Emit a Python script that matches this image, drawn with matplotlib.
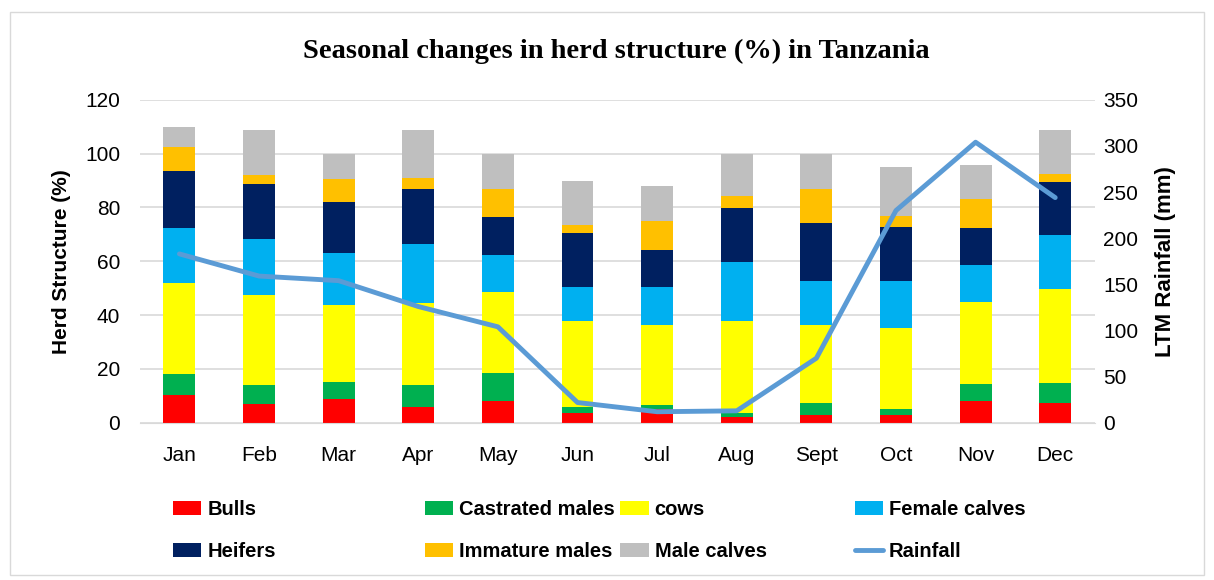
import numpy as np
import matplotlib.pyplot as plt
from matplotlib.patches import Rectangle

months = ["Jan", "Feb", "Mar", "Apr", "May", "Jun", "Jul", "Aug", "Sept", "Oct", "Nov", "Dec"]

bulls = [10.4, 7.0, 9.0, 5.8, 8.1, 3.5, 5.3, 2.1, 2.8, 2.8, 8.1, 7.4]
castrated = [7.9, 7.1, 6.3, 8.4, 10.3, 2.3, 1.2, 1.4, 4.5, 2.5, 6.5, 7.4]
cows = [33.7, 33.2, 28.5, 30.2, 30.1, 31.9, 29.9, 34.4, 29.1, 30.1, 30.1, 34.8]
female_calves = [20.5, 21.0, 19.3, 22.0, 14.0, 12.9, 14.0, 21.7, 16.1, 17.1, 13.8, 20.2]
heifers = [21.1, 20.3, 18.9, 20.4, 13.9, 19.9, 13.9, 20.3, 21.8, 20.3, 14.0, 19.6]
immature = [8.9, 3.3, 8.5, 4.1, 10.5, 3.1, 10.6, 4.4, 12.4, 4.1, 10.6, 3.2]
male_calves = [7.3, 17.0, 9.4, 18.0, 13.0, 16.3, 13.0, 15.6, 13.2, 18.0, 12.7, 16.3]
rainfall = [183, 159, 154, 126, 104, 22, 12, 13, 70, 230, 304, 244]

series = [
    ("Bulls", bulls, "#FF0000"),
    ("Castrated males", castrated, "#00B050"),
    ("cows", cows, "#FFFF00"),
    ("Female calves", female_calves, "#00B0F0"),
    ("Heifers", heifers, "#002060"),
    ("Immature males", immature, "#FFC000"),
    ("Male calves", male_calves, "#BFBFBF"),
]

plt.rcParams['font.family'] = ['Liberation Sans', 'DejaVu Sans']

fig = plt.figure(figsize=(12.14, 5.80), dpi=100)
ax = fig.add_axes([0.115, 0.271, 0.787, 0.557])

x = np.arange(len(months))
bottom = np.zeros(len(months))
handles = {}
for name, vals, col in series:
    b = ax.bar(x, vals, 0.4, bottom=bottom, color=col, label=name, zorder=2)
    handles[name] = b
    bottom += np.array(vals)

ax.set_xlim(-0.5, 11.5)
ax.set_ylim(0, 120)
ax.set_yticks(range(0, 121, 20))
ax.set_xticks(x)
ax.set_xticklabels(months)
ax.grid(axis='y', color='#D9D9D9', lw=1.2, zorder=0)
ax.tick_params(length=0, labelsize=15)
ax.tick_params(axis='x', pad=17)
ax.tick_params(axis='y', pad=14)
for s in ['top', 'right', 'left']:
    ax.spines[s].set_visible(False)
ax.spines['bottom'].set_color('#D9D9D9')
ax.set_ylabel("Herd Structure (%)", fontsize=15, fontweight='bold', labelpad=10)

ax2 = ax.twinx()
line, = ax2.plot(x, rainfall, color='#5B9BD5', lw=3.5, solid_capstyle='round', label="Rainfall", zorder=3)
ax2.set_ylim(0, 350)
ax2.set_yticks(range(0, 351, 50))
ax2.tick_params(length=0, labelsize=15, pad=6)
for s in ['top', 'right', 'left', 'bottom']:
    ax2.spines[s].set_visible(False)
ax2.set_ylabel("LTM Rainfall (mm)", fontsize=16, fontweight='bold', labelpad=12)

fig.text(0.508, 0.912, "Seasonal changes in herd structure (%) in Tanzania",
         ha='center', va='center', fontsize=20.5, fontweight='bold', family='Liberation Serif')

columns = [
    (["Bulls", "Heifers"], 0.1425),
    (["Castrated males", "Immature males"], 0.350),
    (["cows", "Male calves"], 0.511),
    (["Female calves", "Rainfall"], 0.704),
]
handles["Rainfall"] = line
for names, xpos in columns:
    fig.legend([handles[n] for n in names], names, loc='upper left',
               bbox_to_anchor=(xpos, 0.138), frameon=False,
               prop={'size': 14.5, 'weight': 'bold'}, handlelength=1.4,
               handleheight=0.75, handletextpad=0.3, labelspacing=1.15,
               borderpad=0, borderaxespad=0)

fig.patches.append(Rectangle((0.008, 0.008), 0.984, 0.972, transform=fig.transFigure,
                             fill=False, edgecolor='#D9D9D9', lw=1))

fig.savefig("out.png", dpi=100)
